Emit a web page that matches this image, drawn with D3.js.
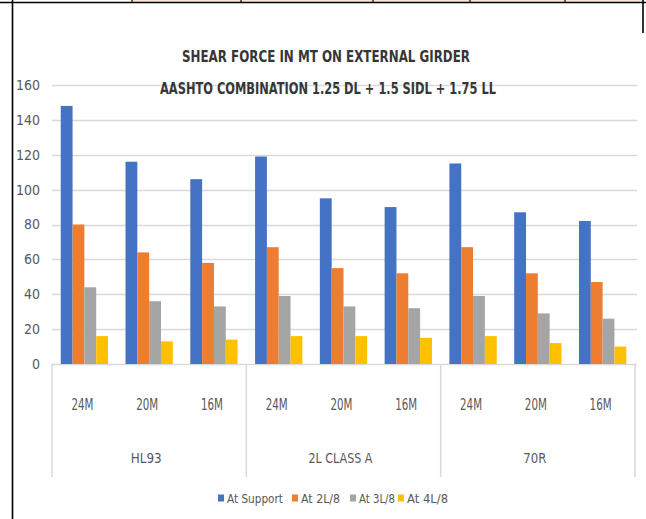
<!DOCTYPE html>
<html>
<head>
<meta charset="utf-8">
<script src="https://cdn.jsdelivr.net/npm/d3@7"></script>
<style>
  html, body { margin: 0; padding: 0; background: #fff; }
  svg { display: block; }
  text { font-family: "DejaVu Sans Condensed", "Liberation Sans Narrow", "Roboto", sans-serif; }
</style>
</head>
<body>
<svg id="chart" width="646" height="519"></svg>
<script>
// Shear force (MT) on the external girder, AASHTO 1.25 DL + 1.5 SIDL + 1.75 LL
const loadCases = ["HL93", "2L CLASS A", "70R"];
const spans = ["24M", "20M", "16M"];
const seriesNames = ["At Support", "At 2L/8", "At 3L/8", "At 4L/8"];
const atSupport = [148, 116, 106, 119, 95, 90, 115, 87, 82];
const at2L8 = [80, 64, 58, 67, 55, 52, 67, 52, 47];
const at3L8 = [44, 36, 33, 39, 33, 32, 39, 29, 26];
const at4L8 = [16, 13, 14, 16, 16, 15, 16, 12, 10];
const yTicks = [0, 20, 40, 60, 80, 100, 120, 140, 160];
const colors = ["#4472C4", "#ED7D31", "#A5A5A5", "#FFC000"];

const seriesValues = [atSupport, at2L8, at3L8, at4L8];
const categories = [];
loadCases.forEach((g, gi) => spans.forEach((s, si) => categories.push({ key: gi * spans.length + si, group: g, span: s })));

const svg = d3.select("#chart");

// document table frame around the chart
svg.append("rect").attr("x", 132).attr("y", 0).attr("width", 511).attr("height", 2).attr("fill", "#fbe5d6");
svg.append("line").attr("x1", 0).attr("x2", 646).attr("y1", 2.5).attr("y2", 2.5).attr("stroke", "#000").attr("stroke-width", 1.6);
[132, 241, 373, 470, 565].forEach(x => {
  svg.append("line").attr("x1", x).attr("x2", x).attr("y1", 0).attr("y2", 3).attr("stroke", "#000").attr("stroke-width", 1.2);
});
svg.append("line").attr("x1", 12.5).attr("x2", 12.5).attr("y1", 0).attr("y2", 519).attr("stroke", "#000").attr("stroke-width", 1.6);
svg.append("line").attr("x1", 643).attr("x2", 643).attr("y1", 0).attr("y2", 33).attr("stroke", "#000").attr("stroke-width", 1.6);

const plotLeft = 52, plotRight = 635, plotTop = 85, plotBottom = 364;

const y = d3.scaleLinear().domain([0, 160]).range([plotBottom, plotTop]);
const x0 = d3.scaleBand().domain(categories.map(c => c.key)).range([plotLeft, plotRight]).padding(0);
const bw = x0.bandwidth();
const x1 = d3.scaleBand().domain(seriesNames).range([bw * 0.135, bw * 0.865]).padding(0);

// gridlines
svg.append("g").selectAll("line").data(yTicks).join("line")
  .attr("x1", plotLeft).attr("x2", plotRight + 2)
  .attr("y1", d => Math.round(y(d)) + 0.5).attr("y2", d => Math.round(y(d)) + 0.5)
  .attr("stroke", "#d9d9d9").attr("stroke-width", 1.5);

// y tick labels
svg.append("g").selectAll("text").data(yTicks).join("text")
  .attr("x", 40).attr("y", d => y(d))
  .attr("dy", "0.35em").attr("text-anchor", "end")
  .attr("font-size", 14).attr("fill", "#595959")
  .text(d => d);

// bars
const barGroups = svg.append("g").selectAll("g").data(categories).join("g")
  .attr("transform", c => `translate(${x0(c.key)},0)`);
barGroups.selectAll("rect")
  .data(c => seriesNames.map((name, si) => ({ name, si, value: seriesValues[si][c.key] })))
  .join("rect")
  .attr("x", d => x1(d.name)).attr("width", x1.bandwidth())
  .attr("y", d => y(d.value)).attr("height", d => y(0) - y(d.value))
  .attr("fill", d => colors[d.si]);

// multi-level category axis
const groupW = bw * spans.length;
const sepX = d3.range(loadCases.length + 1).map(i => plotLeft + i * groupW);
svg.append("g").selectAll("line").data(sepX).join("line")
  .attr("x1", d => d).attr("x2", d => d)
  .attr("y1", plotBottom).attr("y2", 477)
  .attr("stroke", "#d9d9d9").attr("stroke-width", 1.5);

svg.append("g").selectAll("text").data(categories).join("text")
  .attr("x", c => x0(c.key) + bw / 2 - 2).attr("y", 405)
  .attr("dy", "0.35em").attr("text-anchor", "middle")
  .attr("font-size", 15).attr("fill", "#595959")
  .attr("textLength", 22).attr("lengthAdjust", "spacingAndGlyphs")
  .text(c => c.span);

const groupLabelWidth = { "HL93": 31, "2L CLASS A": 64, "70R": 23 };
svg.append("g").selectAll("text").data(loadCases).join("text")
  .attr("x", (g, i) => plotLeft + (i + 0.5) * groupW - 3).attr("y", 458)
  .attr("dy", "0.35em").attr("text-anchor", "middle")
  .attr("font-size", 14).attr("fill", "#595959")
  .attr("textLength", g => groupLabelWidth[g]).attr("lengthAdjust", "spacingAndGlyphs")
  .text(g => g);

// title
svg.append("text").attr("x", 326).attr("y", 57).attr("dy", "0.35em")
  .attr("text-anchor", "middle").attr("font-size", 15).attr("font-weight", "bold")
  .attr("fill", "#363636")
  .attr("textLength", 288).attr("lengthAdjust", "spacingAndGlyphs")
  .text("SHEAR FORCE IN MT ON EXTERNAL GIRDER");
svg.append("text").attr("x", 328).attr("y", 89).attr("dy", "0.35em")
  .attr("text-anchor", "middle").attr("font-size", 15).attr("font-weight", "bold")
  .attr("fill", "#363636")
  .attr("textLength", 336).attr("lengthAdjust", "spacingAndGlyphs")
  .text("AASHTO COMBINATION 1.25 DL + 1.5 SIDL + 1.75 LL");

// legend
const legendSwatchX = [218, 292, 350, 398];
const legendTextWidth = [56, 39, 36, 41];
const legend = svg.append("g").selectAll("g").data(seriesNames).join("g")
  .attr("transform", (d, i) => `translate(${legendSwatchX[i]},498)`);
legend.append("rect").attr("x", 0).attr("y", -3.5).attr("width", 6).attr("height", 7)
  .attr("fill", (d, i) => colors[i]);
legend.append("text").attr("x", 9).attr("y", 0).attr("dy", "0.35em")
  .attr("font-size", 13).attr("fill", "#595959")
  .attr("textLength", (d, i) => legendTextWidth[i]).attr("lengthAdjust", "spacingAndGlyphs")
  .text(d => d);
</script>
</body>
</html>
